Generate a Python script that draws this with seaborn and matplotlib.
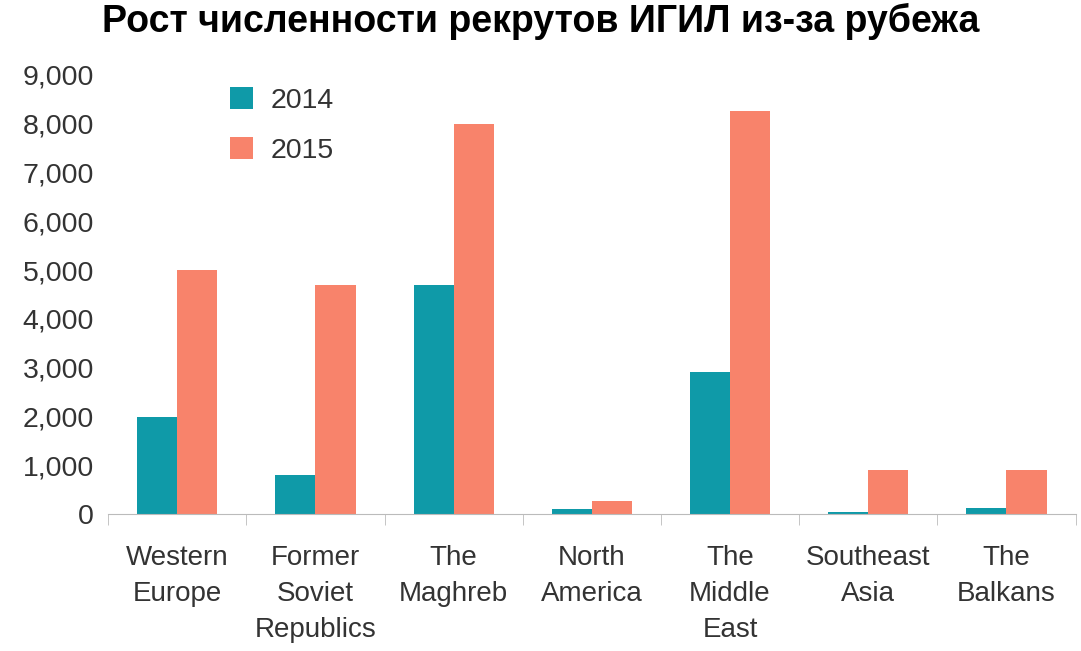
import matplotlib
matplotlib.use("Agg")
import matplotlib.pyplot as plt
import seaborn as sns
import pandas as pd
from matplotlib.ticker import FuncFormatter, FixedLocator

categories = ["Western\nEurope", "Former\nSoviet\nRepublics", "The\nMaghreb", "North\nAmerica",
              "The\nMiddle\nEast", "Southeast\nAsia", "The\nBalkans"]
v2014 = [2000, 800, 4700, 110, 2920, 50, 120]
v2015 = [5000, 4700, 8000, 270, 8250, 900, 900]
years = ["2014", "2015"]

df = pd.DataFrame({"cat": categories * 2,
                   "year": [years[0]] * 7 + [years[1]] * 7,
                   "val": v2014 + v2015})

plt.rcParams["font.family"] = "Liberation Sans"
fig = plt.figure(figsize=(10.81, 6.51), dpi=100)
ax = fig.add_axes([0.1, 0.21, 0.895, 0.675])
sns.barplot(data=df, x="cat", y="val", hue="year", palette=["#0f9aa8", "#f8836b"],
            width=0.58, ax=ax, saturation=1, edgecolor="none")
ax.set_ylim(0, 9000)
ax.set_xlim(-0.5, 6.5)
ax.set_yticks(range(0, 9001, 1000))
ax.yaxis.set_major_formatter(FuncFormatter(lambda v, p: f"{int(v):,}"))
ax.set_xlabel(""); ax.set_ylabel("")
for s in ["top", "right", "left"]:
    ax.spines[s].set_visible(False)
ax.spines["bottom"].set_color("#bbbbbb")
ax.tick_params(axis="y", length=0, labelsize=20.5, colors="#333333", pad=10)
ax.tick_params(axis="x", length=0, labelsize=20, colors="#333333", pad=22)
ax.xaxis.set_minor_locator(FixedLocator([i - 0.5 for i in range(8)]))
ax.tick_params(axis="x", which="minor", length=8, color="#bbbbbb")
for t in ax.get_xticklabels():
    t.set_linespacing(1.5)
leg = ax.legend(loc="upper left", bbox_to_anchor=(0.1, 1.03), frameon=False,
                fontsize=20.5, handlelength=0.8, handleheight=0.8, labelspacing=0.8,
                handletextpad=0.6)
for t in leg.get_texts():
    t.set_color("#333333")
fig.suptitle("Рост численности рекрутов ИГИЛ из-за рубежа", fontsize=27,
             fontweight="bold", y=0.995)
fig.savefig("out.png", dpi=100, facecolor="white")
